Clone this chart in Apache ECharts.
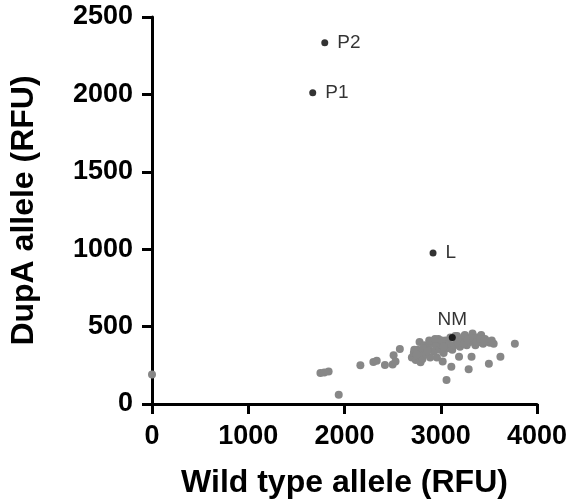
<!DOCTYPE html>
<html>
<head>
<meta charset="utf-8">
<script src="https://cdn.jsdelivr.net/npm/echarts@6/dist/echarts.min.js"></script>
<style>
  html, body { margin: 0; padding: 0; background: #fff; }
  #chart { width: 571px; height: 504px; }
</style>
</head>
<body>
<div id="chart"></div>
<script>
// grey samples [wild type RFU, DupA RFU]
var greyPoints = [
  [0,190],
  [1750,200],[1790,203],[1835,210],
  [1940,60],
  [2165,250],
  [2300,272],[2335,280],
  [2420,252],[2500,255],
  [2510,315],[2530,275],[2575,356],
  [2700,300],[2720,330],[2740,285],[2760,350],[2770,310],[2780,400],[2790,270],[2800,335],[2810,290],
  [2830,380],[2850,320],[2870,360],[2890,300],[2900,395],[2920,405],[2930,340],[2950,375],[2960,300],[2975,420],
  [2990,350],[3000,385],[3020,275],[3030,330],[3050,410],[3060,155],[3070,360],[3080,390],[3100,430],[3110,240],[3120,350],
  [3140,380],[3160,410],[3170,440],[3190,305],[3200,370],[3210,395],[3230,420],[3250,445],[3270,380],[3290,225],[3300,400],
  [3310,430],[3320,305],[3330,455],[3350,410],[3360,380],[3380,430],[3400,400],[3420,445],[3440,390],[3460,420],[3480,405],
  [3500,260],[3510,395],[3530,410],[3550,390],[3620,305],[3770,390],
  [2725,350],[2750,320],[2820,360],[2880,410],[2940,420],[3010,410],[3150,440],[3180,395],[3240,390],[3280,415],
  [3340,425],[3370,400],[3410,420],[3450,405],[3030,370],[2860,340]
];

// labelled controls
var ctrlNames = ['P2', 'P1', 'L', 'NM'];
var ctrlPoints = [[1795,2333],[1670,2010],[2920,975],[3120,429]];
var ctrlLabelPos = ['right', 'right', 'right', 'top'];

var xTicks = { min: 0, max: 4000, interval: 1000 };
var yTicks = { min: 0, max: 2500, interval: 500 };

var font = 'Liberation Sans, Arial, Helvetica, sans-serif';

var ctrlData = ctrlPoints.map(function (p, i) {
  return {
    name: ctrlNames[i],
    value: p,
    label: { position: ctrlLabelPos[i], distance: ctrlLabelPos[i] === 'top' ? 5 : 9 }
  };
});

function plain(v) { return String(v); }

var axisCommon = {
  axisLine: { lineStyle: { color: '#000', width: 3 } },
  axisTick: { length: 10, lineStyle: { color: '#000', width: 3 } },
  splitLine: { show: false },
  nameLocation: 'middle',
  nameTextStyle: { color: '#000', fontWeight: 'bold', fontSize: 32, fontFamily: font }
};

var chart = echarts.init(document.getElementById('chart'));
chart.setOption({
  animation: false,
  grid: { left: 152, right: 34, top: 17, bottom: 100 },
  xAxis: Object.assign({}, axisCommon, {
    type: 'value',
    min: xTicks.min, max: xTicks.max, interval: xTicks.interval,
    name: 'Wild type allele (RFU)',
    nameGap: 63,
    axisLabel: { color: '#000', fontWeight: 'bold', fontSize: 27, fontFamily: font, margin: 19, formatter: plain }
  }),
  yAxis: Object.assign({}, axisCommon, {
    type: 'value',
    min: yTicks.min, max: yTicks.max, interval: yTicks.interval,
    name: 'DupA allele (RFU)',
    nameGap: 112,
    axisLabel: { color: '#000', fontWeight: 'bold', fontSize: 27, fontFamily: font, margin: 19, formatter: plain }
  }),
  series: [
    {
      type: 'scatter',
      data: greyPoints,
      symbolSize: 8,
      itemStyle: { color: '#878787', opacity: 1 }
    },
    {
      type: 'scatter',
      data: ctrlData,
      symbolSize: 7,
      itemStyle: { color: '#000' },
      label: {
        show: true,
        formatter: '{b}',
        color: '#000',
        fontSize: 19,
        fontFamily: font
      },
      z: 3
    }
  ]
});
</script>
</body>
</html>
